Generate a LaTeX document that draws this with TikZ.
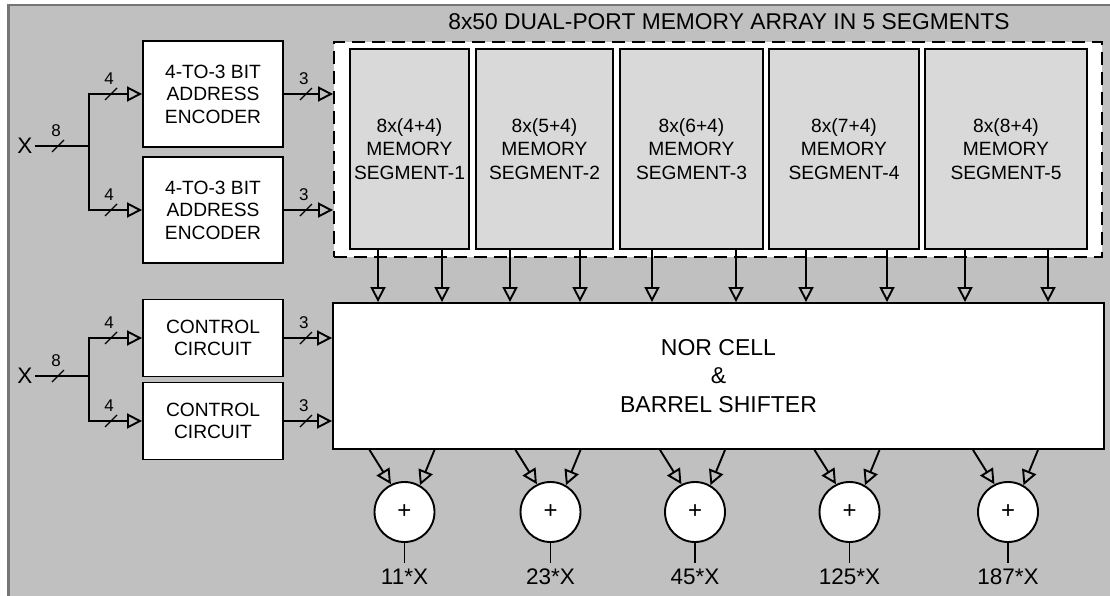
\documentclass[tikz,border=0pt]{standalone}
\usepackage{fontspec}
\setmainfont{Liberation Sans}
\usetikzlibrary{arrows.meta}
\definecolor{bggray}{HTML}{C0C0C0}
\definecolor{seggray}{HTML}{D9D9D9}
\definecolor{edgegray}{HTML}{757575}
\newcommand\busmark[2]{%
  \draw[line width=1.3pt] ([xshift=-6pt,yshift=-6pt]#1) -- ([xshift=6pt,yshift=6pt]#1);
  \node[buslbl] at ([xshift=-2pt,yshift=15pt]#1) {#2};}
\begin{document}
\begin{tikzpicture}[x=1pt,y=-1pt,
  wire/.style={line width=1.9pt},
  arr/.style={wire,-{Triangle[open,length=15pt,width=15pt]}},
  box/.style={draw,line width=1.9pt,fill=white,align=center,inner sep=0pt,
    minimum width=140pt,font=\fontsize{19.2}{22.5}\selectfont},
  segbox/.style={draw,line width=1.9pt,fill=seggray,align=center,inner sep=0pt,
    minimum height=200pt,font=\fontsize{19.2}{23.5}\selectfont},
  buslbl/.style={inner sep=0pt,font=\fontsize{17}{18}\selectfont},
  xlbl/.style={inner sep=2.5pt,font=\fontsize{22.5}{24}\selectfont},
  outlbl/.style={inner sep=0pt,font=\fontsize{22.5}{24}\selectfont},
  adder/.style={draw,circle,line width=1.9pt,fill=white,minimum size=60pt,inner sep=0pt,
    font=\fontsize{24}{24}\selectfont},
]
\useasboundingbox (0,0) rectangle (1110,596);
% background panel
\fill[bggray] (8,5) rectangle (1110,596);
\draw[edgegray,line width=2pt] (8,5) -- (1110,5);
\draw[edgegray,line width=3pt] (8.5,596) -- (8.5,4);

% title and memory array
\node[inner sep=0pt,font=\fontsize{22.8}{24}\selectfont] (title) at (729,22) {8x50 DUAL-PORT MEMORY ARRAY IN 5 SEGMENTS};
\node[draw,line width=1.9pt,dash pattern=on 13pt off 7pt,fill=white,minimum width=768pt,minimum height=215pt,inner sep=0pt] (array) at (718,149.5) {};
\node[segbox,minimum width=119pt] (s1) at (409.5,149) {8x(4+4)\\MEMORY\\SEGMENT-1};
\node[segbox,minimum width=137pt] (s2) at (544.5,149) {8x(5+4)\\MEMORY\\SEGMENT-2};
\node[segbox,minimum width=143pt] (s3) at (691.5,149) {8x(6+4)\\MEMORY\\SEGMENT-3};
\node[segbox,minimum width=150pt] (s4) at (844,149) {8x(7+4)\\MEMORY\\SEGMENT-4};
\node[segbox,minimum width=162pt] (s5) at (1006,149) {8x(8+4)\\MEMORY\\SEGMENT-5};

% NOR cell
\node[box,minimum width=771pt,minimum height=146pt,font=\fontsize{23}{28.5}\selectfont] (nor) at (718.5,376) {NOR CELL\\\&\\BARREL SHIFTER};

% encoders
\node[box,minimum height=106pt] (enc1) at (213,94) {4-TO-3 BIT\\ADDRESS\\ENCODER};
\node[box,minimum height=106pt] (enc2) at (213,210) {4-TO-3 BIT\\ADDRESS\\ENCODER};
\node[xlbl,anchor=east] (x1) at (35,146) {X};
\coordinate (j1) at (89,146);
\draw[wire] (x1.east) -- (j1);
\draw[arr] (j1) |- (enc1.west);
\draw[arr] (j1) |- (enc2.west);
\draw[arr] (enc1.east) -- (enc1.east -| array.west);
\draw[arr] (enc2.east) -- (enc2.east -| array.west);
\coordinate (b0) at ([xshift=-31pt]j1);
\coordinate (b1) at ([xshift=-31pt]enc1.west);
\coordinate (b2) at ([xshift=-31pt]enc2.west);
\coordinate (b3) at ([xshift=22pt]enc1.east);
\coordinate (b4) at ([xshift=22pt]enc2.east);
\busmark{b0}{8}
\busmark{b1}{4}
\busmark{b2}{4}
\busmark{b3}{3}
\busmark{b4}{3}

% control circuits
\node[box,minimum height=77pt] (con1) at (213,338) {CONTROL\\CIRCUIT};
\node[box,minimum height=77pt] (con2) at (213,421) {CONTROL\\CIRCUIT};
\node[xlbl,anchor=east] (x2) at (35,376) {X};
\coordinate (j2) at (89,376);
\draw[wire] (x2.east) -- (j2);
\draw[arr] (j2) |- (con1.west);
\draw[arr] (j2) |- (con2.west);
\draw[arr] (con1.east) -- (con1.east -| nor.west);
\draw[arr] (con2.east) -- (con2.east -| nor.west);
\coordinate (c0) at ([xshift=-31pt]j2);
\coordinate (c1) at ([xshift=-31pt]con1.west);
\coordinate (c2) at ([xshift=-31pt]con2.west);
\coordinate (c3) at ([xshift=22pt]con1.east);
\coordinate (c4) at ([xshift=22pt]con2.east);
\busmark{c0}{8}
\busmark{c1}{4}
\busmark{c2}{4}
\busmark{c3}{3}
\busmark{c4}{3}

% memory to NOR arrows
\foreach \n/\d in {s1/-31.5,s1/32.5,s2/-34.5,s2/35.5,s3/-39.5,s3/44.5,s4/-38,s4/43,s5/-41,s5/42}{
  \path ([xshift=\d pt]\n.south) coordinate (tmp);
  \draw[arr] (tmp) -- (tmp |- nor.north);
}

% adders
\foreach \i/\cx/\lab in {1/404.5/11*X,2/550.5/23*X,3/695/45*X,4/849.5/125*X,5/1008/187*X}{
  \node[adder] (a\i) at (\cx,512) {+};
  \node[outlbl] (o\i) at (\cx,577) {\lab};
  \path ([xshift=-35pt]a\i.center) coordinate (tl);
  \path ([xshift=30pt]a\i.center) coordinate (tr);
  \draw[arr] (tl |- nor.south) -- (a\i.116);
  \draw[arr] (tr |- nor.south) -- (a\i.60);
  \draw[wire] (a\i.south) -- ([yshift=6pt]o\i.north);
}
\end{tikzpicture}
\end{document}
